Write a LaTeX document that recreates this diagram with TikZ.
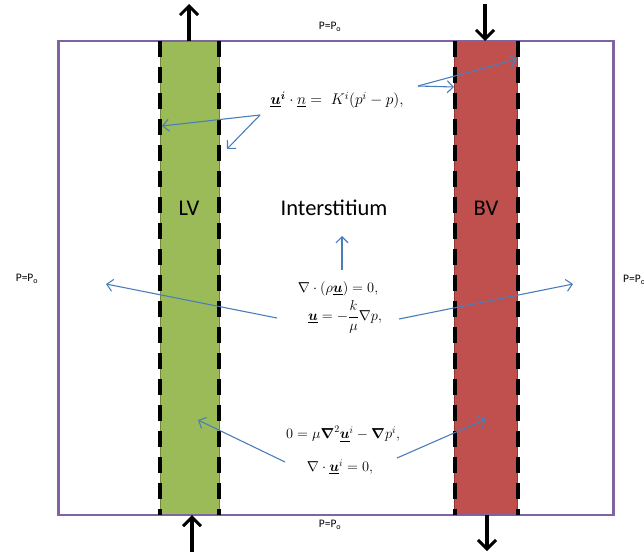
\documentclass[tikz,border=0pt]{standalone}
\usepackage{fix-cm}
\usepackage{amsmath,amsbsy}
\usepackage{fontspec}
\setmainfont{Carlito}
\usetikzlibrary{arrows.meta}
\definecolor{lvfill}{HTML}{9BBB59}
\definecolor{lvline}{HTML}{71893F}
\definecolor{bvfill}{HTML}{C0504D}
\definecolor{bvline}{HTML}{8C3836}
\definecolor{boxline}{HTML}{8064A2}
\definecolor{flow}{HTML}{4A7EBB}
\newcommand{\vu}{\underline{\boldsymbol{u}}}
\begin{document}
\begin{tikzpicture}[x=1pt,y=-1pt,
  vessel/.style={inner sep=0pt, outer sep=0pt, line width=1pt, minimum width=59pt, minimum height=474pt},
  wall/.style={line width=4pt, dash pattern=on 16pt off 10pt},
  bigarrow/.style={line width=3.5pt, -{Straight Barb[length=9pt,width=18pt,line width=3pt]}},
  flowarrow/.style={draw=flow, line width=1.1pt, -{Straight Barb[length=6pt,width=12pt,line width=1.1pt]}},
  plabel/.style={font=\fontsize{11.5}{13}\selectfont, inner sep=1pt},
  region/.style={font=\fontsize{22.5}{26}\selectfont, inner sep=1pt},
  eq/.style={font=\fontsize{14.4}{17}\selectfont, inner sep=1pt}]
\useasboundingbox (0,0) rectangle (644,552);
% vessels
\node[vessel, fill=lvfill, draw=lvline] (lv) at (189.5,278) {};
\node[vessel, fill=bvfill, draw=bvline, minimum width=63pt] (bv) at (486,278) {};
% domain
\node[draw=boxline, line width=2.2pt, inner sep=0pt, outer sep=0pt, minimum width=555pt, minimum height=474pt] (dom) at (336,278) {};
% dashed walls
\draw[wall] (lv.north west) -- (lv.south west);
\draw[wall] (lv.north east) -- (lv.south east);
\draw[wall] (bv.north west) -- (bv.south west);
\draw[wall] (bv.north east) -- (bv.south east);
% boundary arrows
\coordinate (lvtop) at (189,4);
\coordinate (lvbot) at (192,552);
\coordinate (bvtop) at (485,4);
\coordinate (bvbot) at (487,551);
\draw[bigarrow] (lv.north -| lvtop) -- (lvtop);
\draw[bigarrow] (lvbot) -- (lv.south -| lvbot);
\draw[bigarrow] (bvtop) -- (bv.north -| bvtop);
\draw[bigarrow] (bv.south -| bvbot) -- (bvbot);
% pressure labels
\node[plabel] (ptop) at (330,27) {P=P\textsubscript{o}};
\node[plabel] (pbot) at (330,525) {P=P\textsubscript{o}};
\node[plabel] (pleft) at (27,279) {P=P\textsubscript{o}};
\node[plabel, anchor=west] (pright) at (622,280) {P=P\textsubscript{o}};
% region labels
\node[region] (lvlab) at (189,208) {LV};
\node[region] (intlab) at (334,208) {Interstitium};
\node[region] (bvlab) at (486,208) {BV};
% equations
\node[eq, font=\fontsize{15.5}{18}\selectfont] (eqa) at (337,100) {$\vu^{\boldsymbol{i}}\cdot\underline{n} = \;K^i(p^i-p),$};
\node[eq] (eqb) at (338,289) {$\nabla\cdot(\rho\vu)=0,$};
\node[eq] (eqc) at (345,317) {$\vu=-\dfrac{k}{\mu}\nabla p,$};
\node[eq] (eqd) at (343,434) {$0=\mu\boldsymbol{\nabla}^2\vu^{i}-\boldsymbol{\nabla}p^i,$};
\node[eq] (eqe) at (340,467) {$\nabla\cdot\vu^{i}=0,$};
% flow arrows
\coordinate (a1) at (260,115);
\coordinate (a1l) at (162,126);
\coordinate (a1r) at (227,149);
\coordinate (a2) at (418,86);
\coordinate (a2l) at (454,87);
\coordinate (a2r) at (517,59);
\draw[flowarrow] (a1) -- (a1l);
\draw[flowarrow] (a1) -- (a1r);
\draw[flowarrow] (a2) -- (a2l);
\draw[flowarrow] (a2) -- (a2r);
\coordinate (up0) at (342,270);
\coordinate (up1) at (342,236);
\draw[flowarrow] (up0) -- (up1);
\coordinate (m1) at (277,318);
\coordinate (m1e) at (106,284);
\coordinate (m2) at (399,319);
\coordinate (m2e) at (573,284);
\draw[flowarrow] (m1) -- (m1e);
\draw[flowarrow] (m2) -- (m2e);
\coordinate (b1) at (285,462);
\coordinate (b1e) at (198,420);
\coordinate (b2) at (397,458);
\coordinate (b2e) at (486,419);
\draw[flowarrow] (b1) -- (b1e);
\draw[flowarrow] (b2) -- (b2e);
\end{tikzpicture}
\end{document}
